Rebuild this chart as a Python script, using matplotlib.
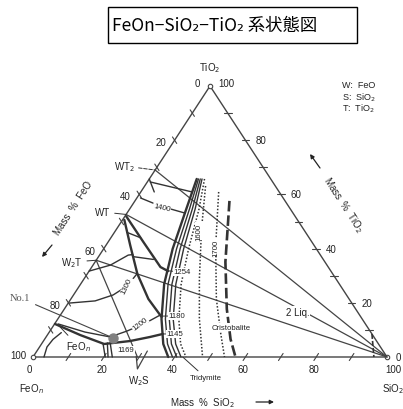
import matplotlib
matplotlib.use("Agg")
import matplotlib.pyplot as plt
import numpy as np

plt.rcParams['font.family'] = ['Liberation Sans', 'DejaVu Sans']
W, H = 403, 410

# compounds on the FeO-TiO2 side (mass % TiO2) and 2FeO.SiO2 on the FeO-SiO2 side
comp_names = ['WT$_2$', 'WT', 'W$_2$T']
comp_tio2 = [69.0, 52.6, 35.7]
w2s_sio2 = 29.5

# curves as (mass % SiO2, mass % TiO2)
sio2_liq = [(13.4, 65.7), (16.0, 54.6), (19.5, 39.9), (23.6, 26.9), (29.3, 14.0), (34.4, 4.8), (38.2, 0)]
sio2_l1 = [(13.9, 65.7), (16.9, 54.6), (20.6, 39.9), (24.7, 26.9), (30.4, 14.0), (35.6, 4.8), (39.4, 0)]
sio2_l2 = [(14.4, 65.7), (17.7, 54.6), (21.6, 39.9), (25.8, 26.9), (31.5, 14.0), (36.7, 4.8), (40.6, 0)]
sio2_l3 = [(14.9, 65.7), (18.5, 54.6), (22.6, 39.9), (26.9, 26.9), (32.6, 14.0), (37.9, 4.8), (41.8, 0)]
trid = [(15.6, 65.7), (19.6, 54.6), (24.0, 39.9), (28.4, 26.9), (34.2, 14.0), (39.3, 4.8), (43.2, 0)]
iso1600 = [(17.2, 63.1), (24.0, 47.2), (32.6, 28.8), (40.0, 14.0), (47.9, 0)]
iso1700 = [(22.0, 60.9), (31.1, 41.0), (41.1, 21.4), (48.8, 8.5), (54.1, 0)]
crist = [(26.7, 57.6), (36.8, 35.1), (45.9, 17.7), (52.5, 6.6), (57.2, 0)]
b_wt = [(0.4, 51.9), (10.0, 42.4), (19.4, 33.2), (22.3, 31.7)]
b_w2t = [(0.5, 50.6), (6.8, 41.3), (14.2, 30.6), (21.9, 21.4), (28.9, 14.8)]
b_feo = [(0.1, 12.2), (9.3, 8.1), (17.7, 4.8), (24.5, 5.9), (29.4, 7.4), (32.4, 8.5)]
eut1169 = [[(17.4, 4.8), (20.4, 0)], [(18.4, 5.2), (21.2, 0)], [(19.2, 5.2), (22.4, 0)]]
iso1400 = [(1.0, 58.7), (8.1, 55.7), (16.4, 53.1)]
iso1300 = [(0.3, 19.9), (7.2, 20.7), (11.2, 22.9), (13.5, 26.2), (14.0, 30.5)]
iso1200 = [(1.0, 12.2), (10.1, 9.2), (18.1, 7.4), (21.8, 9.6), (25.5, 12.5), (28.2, 15.5)]
arc_w2t = [(0.0, 31.7), (4.9, 33.9), (8.1, 37.6), (9.3, 37.8)]
arc_feo = [(3.1, 0), (2.1, 3.7), (2.4, 6.5), (3.5, 9.0)]
wt2_a = [(0.8, 64.6), (14.5, 60.9)]
wt2_b = [(0.0, 65.7), (3.8, 60.9)]
wt_seg1 = [(3.5, 46.0), (8.4, 44.0)]
wt_seg2 = [(10.0, 37.0), (16.0, 36.0)]
two_liq = [(91.5, 8.5), (96.3, 0)]
point_no1 = (19.2, 7.0)


def tern(pts):
    a = np.asarray(pts, float)
    return a[:, 0] + a[:, 1] / 2, a[:, 1]


def tp(s, t):
    return (s + t / 2, t)


def fp(x, y):
    return (x / W, 1 - y / H)


fig = plt.figure(figsize=(W / 100, H / 100), dpi=100)
ax = fig.add_axes([33 / W, 1 - 358 / H, 354 / W, 271 / H])
ax.set_xlim(0, 100)
ax.set_ylim(0, 100)
ax.axis('off')

dark = '#333333'
kw = dict(clip_on=False, solid_capstyle='round')

# frame
x, y = tern([(0, 0), (100, 0), (0, 100), (0, 0)])
ax.plot(x, y, color='#444444', lw=1.0, **kw)
x, y = tern([(0, 0), (100, 0), (0, 100)])
ax.plot(x, y, 'o', ms=3.2, mfc='white', mec='#444444', mew=0.8, clip_on=False)

# ticks every 10 %
for v in range(10, 100, 10):
    for seg in ([(v, -1.3), (v, 1.3)], [(-1.2, v + 1.2), (1.2, v - 1.2)],
                [(100 - v - 1.1, v), (100 - v + 1.1, v)]):
        x, y = tern(seg)
        ax.plot(x, y, color='#444444', lw=0.8, **kw)

# tie lines to SiO2 and W2T-W2S
for t in comp_tio2:
    x, y = tern([(0, t), (100, 0)])
    ax.plot(x, y, color='#444444', lw=0.9, **kw)
x, y = tern([(0, comp_tio2[2]), (w2s_sio2, 0)])
ax.plot(x, y, color='#444444', lw=0.9, **kw)

# boundary curves
for c in (sio2_liq, b_wt, b_w2t, b_feo):
    x, y = tern(c)
    ax.plot(x, y, color=dark, lw=1.7, **kw)
for c in (sio2_l1, sio2_l2, sio2_l3, iso1300, iso1200, arc_w2t, arc_feo, iso1400,
          wt2_a, wt2_b, wt_seg1, wt_seg2, *eut1169):
    x, y = tern(c)
    ax.plot(x, y, color=dark, lw=1.0, **kw)
for c in (trid, iso1600, iso1700):
    x, y = tern(c)
    ax.plot(x, y, color=dark, lw=1.1, ls=(0, (1, 1.2)), **kw)
x, y = tern(crist)
ax.plot(x, y, color=dark, lw=1.9, ls=(0, (4, 1.5)), **kw)
x, y = tern(two_liq)
ax.plot(x, y, color=dark, lw=1.2, ls=(0, (3, 1.2)), **kw)

# W2S mark below the axis
x, y = tern([(29.0, 0.3), (31.7, -4.4), (31.2, 2.2)])
ax.plot(x, y, color='#444444', lw=0.9, **kw)

x, y = tern([point_no1])
ax.plot(x, y, 'o', ms=6.5, color='#808080', clip_on=False)

tk = dict(fontsize=7, color='#222222', ha='center', va='center')
sm = dict(fontsize=5.6, color='#222222', ha='center', va='center')
wb = dict(fc='white', ec='none', pad=0.4)

# edge labels
for v in (20, 40, 60, 80):
    ax.annotate(str(v), tp(0, 100 - v), xytext=(-10, -1.5), textcoords='offset points', **tk)
    ax.annotate(str(v), tp(v, 0), xytext=(-1.5, -9), textcoords='offset points', **tk)
    ax.annotate(str(v), tp(100 - v, v), xytext=(11, 0), textcoords='offset points', **tk)
fig.text(*fp(29, 370), '0', **tk)
fig.text(*fp(393, 370), '100', **tk)
fig.text(*fp(197, 84), '0', **tk)
fig.text(*fp(226, 84), '100', **tk)
fig.text(*fp(398, 358), '0', **tk)
fig.text(*fp(18, 356), '100', **tk)
fig.text(*fp(210, 68), 'TiO$_2$', **tk)
fig.text(*fp(31, 389), 'FeO$_n$', **tk)
fig.text(*fp(393, 389), 'SiO$_2$', **tk)

for i, s in enumerate(['W:  FeO', 'S:  SiO$_2$', 'T:  TiO$_2$']):
    fig.text(*fp(342, 86 + 11.5 * i), s, fontsize=6.5, color='#222222', va='center')

# axis titles with arrows
fig.text(*fp(170, 403), 'Mass  %  SiO$_2$', fontsize=7, color='#222222', va='center')
fig.text(*fp(73, 208), 'Mass  %  FeO', fontsize=7, color='#222222', ha='center',
         va='center', rotation=57, rotation_mode='anchor')
fig.text(*fp(343, 205), 'Mass  %  TiO$_2$', fontsize=7, color='#222222', ha='center',
         va='center', rotation=-57, rotation_mode='anchor')
arr = dict(arrowstyle='-|>', color='#222222', lw=0.9, mutation_scale=6, shrinkA=0, shrinkB=0)
for a, b in (((256, 403), (274, 403)), ((52, 246), (42, 258)), ((320, 169), (310, 155))):
    ax.annotate('', xy=fp(*b), xycoords='figure fraction', xytext=fp(*a),
                textcoords='figure fraction', arrowprops=arr)

# compound labels with leaders
lead = dict(arrowstyle='-', color='#333333', lw=0.7, shrinkA=1, shrinkB=0)
for name, t, pos, ls in zip(comp_names, comp_tio2, [(124, 167), (103, 213), (72, 263)],
                            ['--', '-', '-']):
    ax.annotate(name, tp(0, t), xytext=fp(*pos), textcoords='figure fraction',
                arrowprops=dict(lead, linestyle=ls), **tk)
fig.text(*fp(139, 381), 'W$_2$S', **tk)
ax.annotate('FeO$_n$', tp(1.0, 12.0), xytext=fp(78, 347),
            textcoords='figure fraction', arrowprops=lead, **tk)
ax.annotate('No.1', tp(*point_no1), xytext=fp(20, 299), textcoords='figure fraction',
            fontsize=7.5, color='#555555', family='Liberation Serif', ha='center', va='center',
            arrowprops=dict(arrowstyle='-', color='#444444', lw=0.8, shrinkA=2, shrinkB=3))

# temperatures and phase names
for txt, pt, pos in (('1254', (22.2, 31.8), (182, 273)), ('1180', (28.8, 15.1), (177, 317)),
                     ('1145', (32.3, 8.5), (175, 335))):
    ax.annotate(txt, tp(*pt), xytext=fp(*pos), textcoords='figure fraction',
                arrowprops=dict(lead, shrinkA=0), bbox=wb, **sm)
ax.annotate('Tridymite', tp(42.3, 0), xytext=fp(206, 379), textcoords='figure fraction',
            arrowprops=dict(lead, shrinkA=1), **sm)
for txt, pos, rot in (('1400', (162, 208), -12), ('1300', (127, 287), 65),
                      ('1200', (140, 325), 38), ('1600', (199, 232), 90),
                      ('1700', (216, 248), 90), ('1169', (126, 351), 0),
                      ('Cristobalite', (231, 328), 0), ('2 Liq.', (298, 313), 0)):
    fig.text(*fp(*pos), txt, rotation=rot, bbox=wb, **(tk if txt == '2 Liq.' else sm))

# title box
fig.patches.append(plt.Rectangle(fp(108, 44), 249 / W, 36 / H, transform=fig.transFigure,
                                 fill=False, ec='black', lw=1.0))
fig.text(*fp(112, 26), 'FeOn−SiO₂−TiO₂ 系状態図', fontsize=12.5, va='center',
         family=['Noto Sans CJK JP', 'DejaVu Sans'], color='black')

fig.savefig('out.png', dpi=100, facecolor='white')
